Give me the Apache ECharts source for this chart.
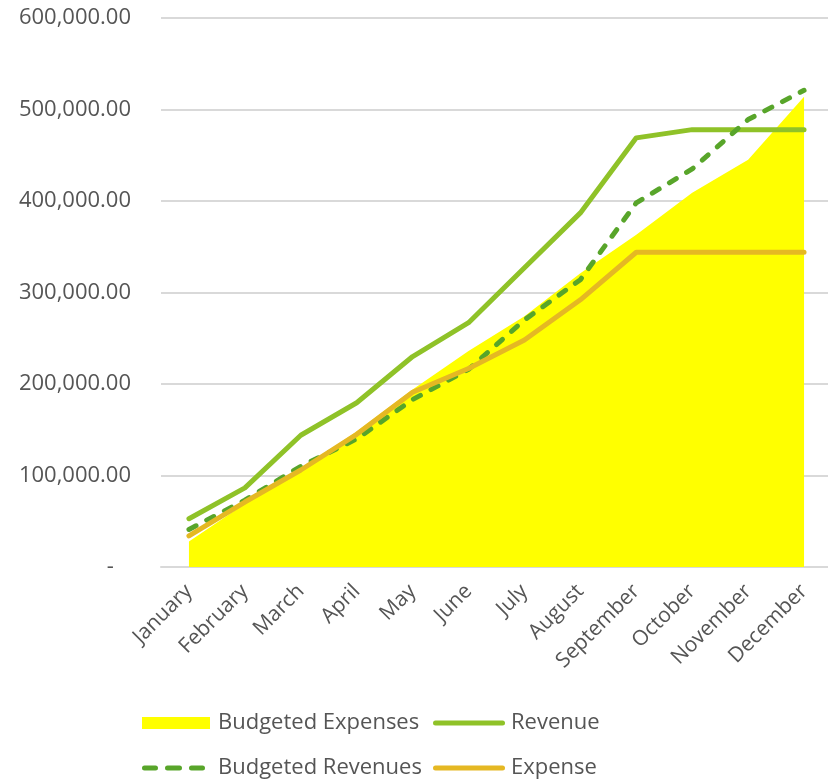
<!DOCTYPE html>
<html>
<head>
<meta charset="utf-8">
<title>Revenue and Expenses by Month</title>
<script src="https://cdn.jsdelivr.net/npm/echarts@6/dist/echarts.min.js"></script>
<style>
  html, body { margin: 0; padding: 0; background: #fff; }
  #chart { width: 828px; height: 782px; }
</style>
</head>
<body>
<div id="chart"></div>
<script>
// Months on the category axis
const months = ['January', 'February', 'March', 'April', 'May', 'June',
  'July', 'August', 'September', 'October', 'November', 'December'];

// Cumulative monthly amounts
const budgetedExpenses = [28000, 69000, 107000, 148000, 194000, 236000,
  274000, 321000, 363000, 409000, 445000, 514000];
const revenue = [52800, 86500, 144000, 179500, 230000, 267000,
  327000, 387000, 469000, 478000, 478000, 478000];
const budgetedRevenues = [41000, 73000, 110000, 140000, 183000, 216000,
  270000, 314000, 398000, 435000, 489000, 521000];
const expense = [34000, 71000, 106000, 145000, 191000, 217000,
  248000, 292000, 344000, 344000, 344000, 344000];

// Value axis range
const yMin = 0;
const yMax = 600000;
const yStep = 100000;

const FONT = '"Open Sans", "Liberation Sans", sans-serif';
const TEXT = '#555555';
const GRID = '#d9d9d9';

const COLORS = {
  budgetedExpenses: '#ffff00',
  revenue: '#8fc228',
  budgetedRevenues: '#58a52a',
  expense: '#e5b823'
};

// Legend icon shapes: a solid bar and a three-dash bar
const ICON_BAR = 'path://M2.5,0 L69.5,0 A2.5,2.5 0 0 1 69.5,5 L2.5,5 A2.5,2.5 0 0 1 2.5,0 Z';
const ICON_DASH = 'path://M2.5,0 L13.5,0 A2.5,2.5 0 0 1 13.5,5 L2.5,5 A2.5,2.5 0 0 1 2.5,0 Z ' +
  'M25.5,0 L37.5,0 A2.5,2.5 0 0 1 37.5,5 L25.5,5 A2.5,2.5 0 0 1 25.5,0 Z ' +
  'M49.5,0 L60.5,0 A2.5,2.5 0 0 1 60.5,5 L49.5,5 A2.5,2.5 0 0 1 49.5,0 Z';

function money(v) {
  if (v === 0) return '-   ';
  return v.toLocaleString('en-US', { minimumFractionDigits: 2, maximumFractionDigits: 2 });
}

function legend(name, left, top, icon, w, h, textPad) {
  return {
    data: [name],
    left: left,
    top: top,
    icon: icon,
    itemWidth: w,
    itemHeight: h,
    itemGap: 0,
    padding: 0,
    selectedMode: false,
    textStyle: {
      color: TEXT, fontFamily: FONT, fontSize: 22, lineHeight: 26,
      padding: [0, 0, 0, textPad]
    }
  };
}

const chart = echarts.init(document.getElementById('chart'), null, { renderer: 'canvas' });

chart.setOption({
  backgroundColor: '#ffffff',
  animation: false,
  grid: {
    left: 161,
    top: 18,
    width: 671,
    height: 549,
    containLabel: false,
    outerBoundsMode: 'none'
  },
  legend: [
    legend('Budgeted Expenses', 142, 710, 'rect', 68, 12, 3),
    legend('Revenue', 433, 710, ICON_BAR, 72, 5, 1),
    legend('Budgeted Revenues', 142, 755, ICON_DASH, 63, 5, 8),
    legend('Expense', 433, 755, ICON_BAR, 72, 5, 1)
  ],
  xAxis: {
    type: 'category',
    data: months,
    boundaryGap: true,
    axisLine: { show: true, lineStyle: { color: GRID, width: 2 } },
    axisTick: { show: false },
    axisLabel: {
      rotate: 45,
      margin: 21,
      interval: 0,
      color: TEXT,
      fontFamily: FONT,
      fontSize: 21
    }
  },
  yAxis: {
    type: 'value',
    min: yMin,
    max: yMax,
    interval: yStep,
    axisLine: { show: false },
    axisTick: { show: false },
    splitLine: { lineStyle: { color: GRID, width: 2 } },
    axisLabel: {
      margin: 30,
      color: TEXT,
      fontFamily: FONT,
      fontSize: 22,
      formatter: money
    }
  },
  series: [
    {
      name: 'Budgeted Expenses',
      type: 'line',
      data: budgetedExpenses,
      symbol: 'none',
      color: COLORS.budgetedExpenses,
      lineStyle: { width: 0, color: COLORS.budgetedExpenses },
      areaStyle: { color: COLORS.budgetedExpenses, opacity: 1 },
      itemStyle: { color: COLORS.budgetedExpenses },
      z: 1
    },
    {
      name: 'Revenue',
      type: 'line',
      data: revenue,
      symbol: 'none',
      color: COLORS.revenue,
      lineStyle: { width: 5, color: COLORS.revenue, cap: 'round', join: 'round' },
      z: 2
    },
    {
      name: 'Budgeted Revenues',
      type: 'line',
      data: budgetedRevenues,
      symbol: 'none',
      color: COLORS.budgetedRevenues,
      lineStyle: { width: 5, color: COLORS.budgetedRevenues, type: [8, 12], cap: 'round', join: 'round' },
      z: 3
    },
    {
      name: 'Expense',
      type: 'line',
      data: expense,
      symbol: 'none',
      color: COLORS.expense,
      lineStyle: { width: 5, color: COLORS.expense, cap: 'round', join: 'round' },
      z: 4
    }
  ]
});
</script>
</body>
</html>
